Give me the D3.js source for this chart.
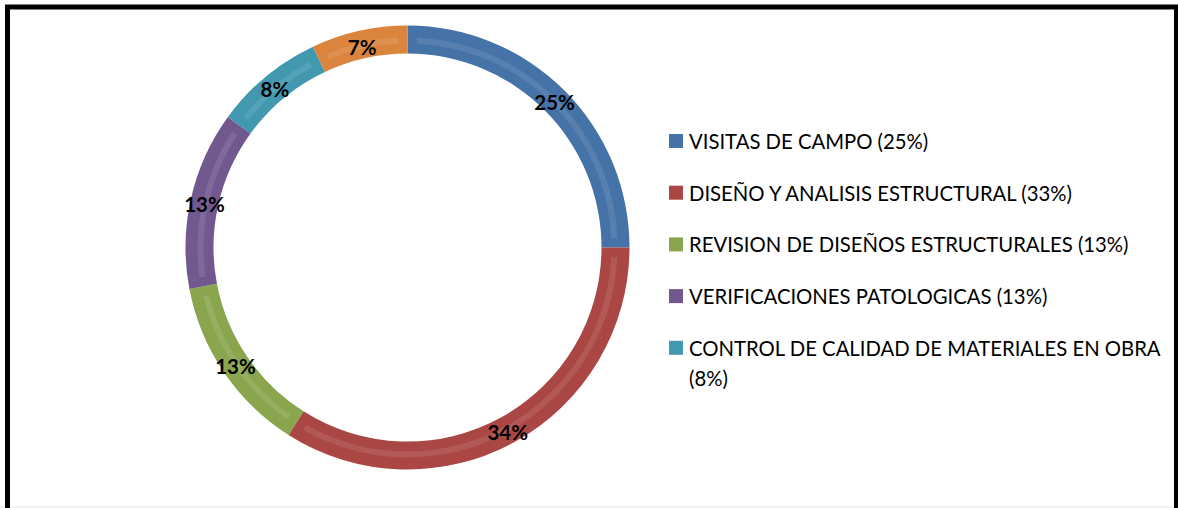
<!DOCTYPE html>
<html>
<head>
<meta charset="utf-8">
<script src="https://cdnjs.cloudflare.com/ajax/libs/d3/7.8.5/d3.min.js"></script>
<style>
  body { margin: 0; background: #fff; }
  svg { display: block; }
</style>
</head>
<body>
<div id="chart"></div>
<script>
const categories = [
  'VISITAS DE CAMPO',
  'DISEÑO Y ANALISIS ESTRUCTURAL',
  'REVISION DE DISEÑOS ESTRUCTURALES',
  'VERIFICACIONES PATOLOGICAS',
  'CONTROL DE CALIDAD DE MATERIALES EN OBRA',
  'OTROS'
];
const values = [25, 34, 13, 13, 8, 7];
const sliceLabels = ['25%', '34%', '13%', '13%', '8%', '7%'];
// legend shows its own rounding, and only the first five entries fit
const legendLabels = [
  'VISITAS DE CAMPO (25%)',
  'DISEÑO Y ANALISIS ESTRUCTURAL (33%)',
  'REVISION DE DISEÑOS ESTRUCTURALES (13%)',
  'VERIFICACIONES PATOLOGICAS (13%)',
  'CONTROL DE CALIDAD DE MATERIALES EN OBRA (8%)'
];
const colors = ['#4572a7', '#aa4643', '#89a54e', '#71588f', '#4198af', '#db843d'];

const width = 1178, height = 508;
const cx = 407.5, cy = 247.5;
const outerR = 222, innerR = 194;

const svg = d3.select('#chart')
  .append('svg')
  .attr('width', width)
  .attr('height', height);

svg.append('rect')
  .attr('width', width)
  .attr('height', height)
  .attr('fill', '#fff');

// frame
svg.append('line')
  .attr('x1', 0).attr('x2', width)
  .attr('y1', 507).attr('y2', 507)
  .attr('stroke', '#e4e4e4');
svg.append('rect')
  .attr('x', 7.5).attr('y', 7)
  .attr('width', 1169).attr('height', 540)
  .attr('fill', 'none')
  .attr('stroke', '#000')
  .attr('stroke-width', 5);

const data = categories.map((c, i) => ({ name: c, value: values[i], label: sliceLabels[i], color: colors[i] }));

const pie = d3.pie()
  .value(d => d.value)
  .sort(null);

const arcs = pie(data);

const arc = d3.arc()
  .innerRadius(innerR)
  .outerRadius(outerR);

// lighter bevel band in the middle of the ring
const band = d3.arc()
  .innerRadius(innerR + 10)
  .outerRadius(outerR - 12);

const labelArc = d3.arc()
  .innerRadius(208)
  .outerRadius(208);

const g = svg.append('g')
  .attr('transform', `translate(${cx},${cy})`);

g.selectAll('path.slice')
  .data(arcs)
  .join('path')
  .attr('class', 'slice')
  .attr('d', arc)
  .attr('fill', d => d.data.color);

g.selectAll('path.band')
  .data(arcs)
  .join('path')
  .attr('class', 'band')
  .attr('d', d => band({
    startAngle: d.startAngle + 0.045,
    endAngle: d.endAngle - 0.045
  }))
  .attr('fill', '#fff')
  .attr('opacity', 0.1);

g.selectAll('text.pct')
  .data(arcs)
  .join('text')
  .attr('class', 'pct')
  .attr('transform', d => {
    const [x, y] = labelArc.centroid(d);
    return `translate(${x},${y + 2})`;
  })
  .attr('text-anchor', 'middle')
  .attr('dominant-baseline', 'central')
  .attr('font-family', 'Lato, "Open Sans", sans-serif')
  .attr('font-weight', 'bold')
  .attr('font-size', 20.5)
  .attr('fill', '#000')
  .text(d => d.data.label);

// Legend
const legend = svg.append('g')
  .attr('transform', 'translate(669,141)');

const rowGap = 51.7;
const maxTextW = 490;

const items = legend.selectAll('g.item')
  .data(legendLabels)
  .join('g')
  .attr('class', 'item')
  .attr('transform', (d, i) => `translate(0,${i * rowGap})`);

items.append('rect')
  .attr('x', 0)
  .attr('y', -7)
  .attr('width', 14)
  .attr('height', 14)
  .attr('fill', (d, i) => colors[i]);

items.append('text')
  .attr('x', 20)
  .attr('y', 0)
  .attr('dominant-baseline', 'central')
  .attr('font-family', 'Lato, "Open Sans", sans-serif')
  .attr('font-size', 20.3)
  .attr('fill', '#000')
  .each(function (d) {
    const text = d3.select(this);
    const words = d.split(' ');
    let line = [];
    let tspan = text.append('tspan').attr('x', 20).attr('dy', 0);
    words.forEach(w => {
      line.push(w);
      tspan.text(line.join(' '));
      if (tspan.node().getComputedTextLength() > maxTextW && line.length > 1) {
        line.pop();
        tspan.text(line.join(' '));
        line = [w];
        tspan = text.append('tspan').attr('x', 20).attr('dy', 30).text(w);
      }
    });
  });
</script>
</body>
</html>
